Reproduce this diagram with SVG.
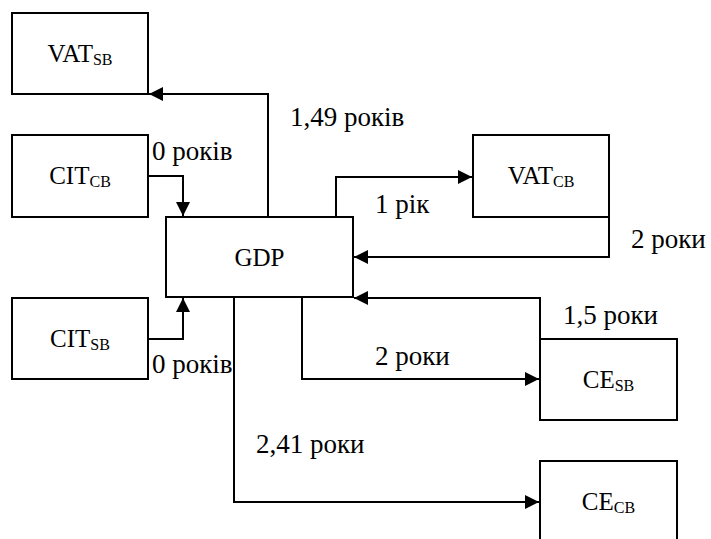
<svg xmlns="http://www.w3.org/2000/svg" width="711" height="539" viewBox="0 0 711 539">
<style>
.box{fill:#fff;stroke:#000;stroke-width:2}
.t{font-family:"Liberation Serif","Times New Roman",serif;font-size:25px;fill:#000}
.l{font-size:27px}
.c{text-anchor:middle}
.sub{font-size:16px}
.ln{fill:none;stroke:#000;stroke-width:2;marker-end:url(#ah)}
</style>
<defs>
<marker id="ah" markerUnits="userSpaceOnUse" markerWidth="15" markerHeight="15" refX="14" refY="7" orient="auto">
<path d="M0,0 L14,7 L0,14 z" fill="#000"/>
</marker>
</defs>
<rect width="711" height="539" fill="#fff"/>
<g id="connectors">
<path class="ln" d="M268,217 V94 H149"/>
<path class="ln" d="M148,176 H183 V216"/>
<path class="ln" d="M148,339 H183 V298"/>
<path class="ln" d="M336,217 V177 H472"/>
<path class="ln" d="M609,217 V257 H354"/>
<path class="ln" d="M540,339 V298 H354"/>
<path class="ln" d="M302,297 V379 H539"/>
<path class="ln" d="M234,297 V502 H539"/>
<text class="t l" x="290" y="126">1,49 років</text>
<text class="t l" x="152" y="160">0 років</text>
<text class="t l" x="152" y="373">0 років</text>
<text class="t l" x="375" y="213">1 рік</text>
<text class="t l" x="631" y="248">2 роки</text>
<text class="t l" x="563" y="324">1,5 роки</text>
<text class="t l" x="375" y="365">2 роки</text>
<text class="t l" x="256" y="453">2,41 роки</text>
</g>
<g id="VAT_SB"><rect class="box" x="12" y="13" width="136" height="81"/><text class="t c" x="80" y="62">VAT<tspan class="sub" dy="3">SB</tspan></text></g>
<g id="CIT_CB"><rect class="box" x="12" y="135" width="136" height="82"/><text class="t c" x="80" y="184">CIT<tspan class="sub" dy="3">CB</tspan></text></g>
<g id="CIT_SB"><rect class="box" x="12" y="298" width="136" height="81"/><text class="t c" x="80" y="347">CIT<tspan class="sub" dy="3">SB</tspan></text></g>
<g id="GDP"><rect class="box" x="166" y="217" width="187" height="80"/><text class="t c" x="259.5" y="266">GDP</text></g>
<g id="VAT_CB"><rect class="box" x="473" y="135" width="136" height="82"/><text class="t c" x="541" y="184">VAT<tspan class="sub" dy="3">CB</tspan></text></g>
<g id="CE_SB"><rect class="box" x="540" y="339" width="137" height="81"/><text class="t c" x="608.5" y="388">CE<tspan class="sub" dy="3">SB</tspan></text></g>
<g id="CE_CB"><rect class="box" x="540" y="461" width="137" height="84"/><text class="t c" x="608.5" y="510">CE<tspan class="sub" dy="3">CB</tspan></text></g>
</svg>
